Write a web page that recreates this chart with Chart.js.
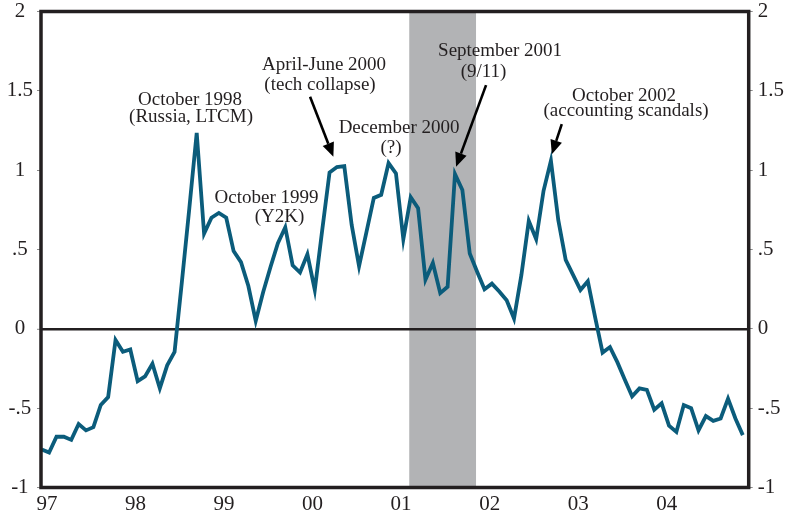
<!DOCTYPE html>
<html>
<head>
<meta charset="utf-8">
<script src="https://cdn.jsdelivr.net/npm/chart.js@4.4.1/dist/chart.umd.min.js"></script>
<style>
  html, body { margin: 0; padding: 0; background: #fff; }
  #wrap { width: 787px; height: 515px; }
</style>
</head>
<body>
<div id="wrap"><canvas id="chart"></canvas></div>
<script>
// monthly index, Jan 1997 .. Dec 2004
const values = [
  -0.76, -0.78, -0.68, -0.68, -0.70, -0.60, -0.64, -0.62, -0.48, -0.43, -0.07, -0.145,
  -0.13, -0.33, -0.30, -0.22, -0.375, -0.23, -0.145, 0.30, 0.76, 1.235, 0.60, 0.70,
  0.73, 0.70, 0.49, 0.42, 0.27, 0.05, 0.23, 0.39, 0.54, 0.64, 0.40, 0.355,
  0.47, 0.245, 0.62, 0.985, 1.02, 1.025, 0.655, 0.395, 0.61, 0.825, 0.845, 1.045,
  0.98, 0.565, 0.83, 0.76, 0.31, 0.415, 0.225, 0.265, 0.975, 0.875, 0.475, 0.36,
  0.25, 0.285, 0.235, 0.18, 0.065, 0.34, 0.68, 0.565, 0.87, 1.06, 0.685, 0.435,
  0.34, 0.245, 0.30, 0.07, -0.15, -0.115, -0.21, -0.32, -0.425, -0.375, -0.385, -0.51,
  -0.47, -0.61, -0.65, -0.48, -0.50, -0.64, -0.55, -0.58, -0.565, -0.44, -0.565, -0.67
];
const yearLabels = ['97', '98', '99', '00', '01', '02', '03', '04'];
const yTickValues = [-1, -0.5, 0, 0.5, 1, 1.5, 2];
const yTickLabels = ['-1', '-.5', '0', '.5', '1', '1.5', '2'];
const recessionMonths = [49.8, 58.85];   // Mar 2001 - Nov 2001
const eventNotes = [
  ['October 1998', '(Russia, LTCM)'],
  ['October 1999', '(Y2K)'],
  ['April-June 2000', '(tech collapse)'],
  ['December 2000', '(?)'],
  ['September 2001', '(9/11)'],
  ['October 2002', '(accounting scandals)']
];

// where the notes sit, in chart units (month index, value)
const notePlace = [
  [[20.1, 1.445], [20.23, 1.335]],
  [[30.46, 0.827], [32.23, 0.704]],
  [[38.26, 1.662], [37.71, 1.536]],
  [[48.42, 1.268], [47.34, 1.142]],
  [[62.11, 1.750], [59.87, 1.621]],
  [[78.91, 1.467], [79.18, 1.372]]
];
const arrowPlace = [
  [[36.36, 1.4625], [39.52, 1.0845]],
  [[60.21, 1.536], [56.15, 1.0214]],
  [[70.47, 1.290], [69.12, 1.101]]
];

const ink = '#231f20';
const serif = "'Liberation Serif', 'DejaVu Serif', serif";

const decor = {
  id: 'decor',
  beforeDraw(chart) {
    const { ctx, chartArea: a, scales: { x } } = chart;
    const x0 = x.getPixelForValue(recessionMonths[0]);
    const x1 = x.getPixelForValue(recessionMonths[1]);
    ctx.save();
    ctx.fillStyle = '#b2b3b5';
    ctx.fillRect(x0, a.top, x1 - x0, a.bottom - a.top);
    ctx.restore();
  },
  afterDatasetsDraw(chart) {
    const { ctx, chartArea: a, scales: { x, y } } = chart;
    ctx.save();
    // frame
    ctx.strokeStyle = ink;
    ctx.lineWidth = 3.5;
    ctx.strokeRect(a.left, a.top, a.right - a.left, a.bottom - a.top);

    // notes
    ctx.fillStyle = ink;
    ctx.font = '19px ' + serif;
    ctx.textAlign = 'center';
    ctx.textBaseline = 'middle';
    eventNotes.forEach((lines, n) => {
      lines.forEach((t, k) => {
        const p = notePlace[n][k];
        ctx.fillText(t, x.getPixelForValue(p[0]), y.getPixelForValue(p[1]));
      });
    });

    // arrows
    arrowPlace.forEach(([from, to]) => {
      const fx = x.getPixelForValue(from[0]), fy = y.getPixelForValue(from[1]);
      const tx = x.getPixelForValue(to[0]), ty = y.getPixelForValue(to[1]);
      const ang = Math.atan2(ty - fy, tx - fx);
      const headLen = 14, headW = 6;
      const bx = tx - headLen * Math.cos(ang), by = ty - headLen * Math.sin(ang);
      ctx.strokeStyle = '#000';
      ctx.lineWidth = 2.6;
      ctx.beginPath();
      ctx.moveTo(fx, fy);
      ctx.lineTo(bx, by);
      ctx.stroke();
      ctx.fillStyle = '#000';
      ctx.beginPath();
      ctx.moveTo(tx, ty);
      ctx.lineTo(bx + headW * Math.sin(ang), by - headW * Math.cos(ang));
      ctx.lineTo(bx - headW * Math.sin(ang), by + headW * Math.cos(ang));
      ctx.closePath();
      ctx.fill();
    });
    ctx.restore();
  }
};

const yTickCb = (v) => {
  const k = yTickValues.indexOf(v);
  return k < 0 ? '' : yTickLabels[k];
};

new Chart(document.getElementById('chart'), {
  type: 'line',
  data: {
    datasets: [{
      data: values.map((v, i) => ({ x: i, y: v })),
      borderColor: '#0b5c7b',
      borderWidth: 3.8,
      pointRadius: 0,
      tension: 0,
      borderJoinStyle: 'miter',
      fill: false
    }]
  },
  options: {
    responsive: true,
    maintainAspectRatio: false,
    animation: false,
    devicePixelRatio: 1,
    layout: { padding: 0 },
    plugins: { legend: { display: false }, tooltip: { enabled: false } },
    scales: {
      x: {
        type: 'linear',
        min: -0.1,
        max: 95.8,
        border: { display: false },
        grid: { display: false, drawTicks: false },
        afterBuildTicks(scale) {
          scale.ticks = yearLabels.map((_, k) => ({ value: k * 12 + 0.7 }));
        },
        afterFit(scale) {
          scale.height = 27.5;
          scale.paddingLeft = 0;
          scale.paddingRight = 0;
        },
        ticks: {
          autoSkip: false,
          maxRotation: 0,
          padding: 4,
          color: ink,
          font: { family: serif, size: 21 },
          callback: (v, i) => yearLabels[i]
        }
      },
      y: {
        position: 'left',
        min: -1,
        max: 2,
        border: { display: false },
        grid: {
          drawTicks: true,
          tickLength: 4,
          tickColor: '#8a8a8a',
          tickWidth: 1,
          color: (c) => (c.tick && c.tick.value === 0 ? ink : 'rgba(0,0,0,0)'),
          lineWidth: (c) => (c.tick && c.tick.value === 0 ? 2.6 : 1)
        },
        afterBuildTicks(scale) {
          scale.ticks = yTickValues.map(v => ({ value: v }));
        },
        afterFit(scale) {
          scale.width = 41;
          scale.paddingTop = 11.5;
          scale.paddingBottom = 0;
        },
        ticks: {
          crossAlign: 'center',
          padding: 4,
          color: ink,
          font: { family: serif, size: 21 },
          callback: yTickCb
        }
      },
      y2: {
        position: 'right',
        min: -1,
        max: 2,
        border: { display: false },
        grid: {
          drawOnChartArea: false,
          drawTicks: true,
          tickLength: 4,
          tickColor: '#8a8a8a',
          tickWidth: 1
        },
        afterBuildTicks(scale) {
          scale.ticks = yTickValues.map(v => ({ value: v }));
        },
        afterFit(scale) {
          scale.width = 38.3;
          scale.paddingTop = 11.5;
          scale.paddingBottom = 0;
        },
        ticks: {
          crossAlign: 'near',
          padding: 5,
          color: ink,
          font: { family: serif, size: 21 },
          callback: yTickCb
        }
      }
    }
  },
  plugins: [decor]
});
</script>
</body>
</html>
